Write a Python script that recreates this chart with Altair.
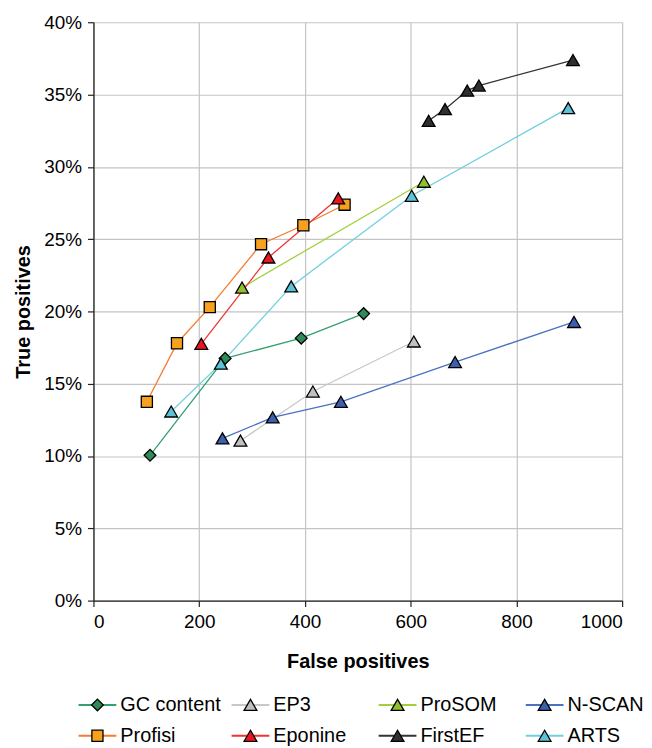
import altair as alt
import pandas as pd

series = ["GC content", "EP3", "ProSOM", "N-SCAN", "Profisi", "Eponine", "FirstEF", "ARTS"]

# False positives (x) and True positives in % (y) per series
gc_x = [107, 249, 393, 511]
gc_y = [10.05, 16.75, 18.15, 19.85]
ep3_x = [278, 415, 606]
ep3_y = [11.06, 14.46, 17.92]
prosom_x = [281, 625]
prosom_y = [21.65, 28.97]
nscan_x = [244, 339, 468, 684, 909]
nscan_y = [11.22, 12.67, 13.75, 16.5, 19.27]
profisi_x = [101, 158, 220, 317, 397, 475]
profisi_y = [13.75, 17.8, 20.3, 24.65, 25.96, 27.38]
eponine_x = [204, 331, 463]
eponine_y = [17.76, 23.73, 27.82]
firstef_x = [634, 665, 707, 729, 907]
firstef_y = [33.18, 33.99, 35.27, 35.62, 37.38]
arts_x = [147, 241, 374, 602, 898]
arts_y = [13.08, 16.39, 21.73, 28.0, 34.06]

all_x = [gc_x, ep3_x, prosom_x, nscan_x, profisi_x, eponine_x, firstef_x, arts_x]
all_y = [gc_y, ep3_y, prosom_y, nscan_y, profisi_y, eponine_y, firstef_y, arts_y]

line_colors = ["#35a070", "#c8c8c8", "#a3cf3e", "#4a72c0", "#f47c30", "#ee3535", "#333333", "#70cfe0"]
fill_colors = ["#2e8b57", "#c0c0c0", "#90c030", "#3d5fae", "#f7a11e", "#e8171e", "#2f2f2f", "#5cc3d6"]
shapes = ["diamond", "triangle-up", "triangle-up", "triangle-up", "square", "triangle-up", "triangle-up", "triangle-up"]
sizes = [140, 165, 165, 165, 125, 165, 165, 165]

x_ticks = [0, 200, 400, 600, 800, 1000]
y_ticks = [0, 5, 10, 15, 20, 25, 30, 35, 40]

rows = []
for k, (name, xs, ys) in enumerate(zip(series, all_x, all_y)):
    for i, (x, y) in enumerate(zip(xs, ys)):
        rows.append({"series": name, "sidx": k, "fp": x, "tp": y, "order": i,
                     "linec": line_colors[k], "fillc": fill_colors[k],
                     "shp": shapes[k], "sz": sizes[k]})
df = pd.DataFrame(rows)

FONT = "Liberation Sans"

x_enc = alt.X("fp:Q", scale=alt.Scale(domain=[0, 1000], nice=False),
              axis=alt.Axis(values=x_ticks, title="False positives", grid=True, format="d"))
y_enc = alt.Y("tp:Q", scale=alt.Scale(domain=[0, 40], nice=False),
              axis=alt.Axis(values=y_ticks, title="True positives", grid=True,
                            labelExpr="datum.value + '%'"))

lines = alt.Chart(df).mark_line(strokeWidth=1.3).encode(
    x=x_enc, y=y_enc,
    color=alt.Color("linec:N", scale=None),
    detail="series:N",
    order="order:Q",
)
points = alt.Chart(df).mark_point(filled=True, stroke="black", strokeWidth=1.3, opacity=1).encode(
    x=x_enc, y=y_enc,
    fill=alt.Fill("fillc:N", scale=None),
    shape=alt.Shape("shp:N", scale=None),
    size=alt.Size("sz:Q", scale=None),
    order="sidx:Q",
)
main = alt.layer(lines, points).properties(width=532, height=582)

leg = pd.DataFrame({
    "series": series,
    "col": [i % 4 for i in range(len(series))],
    "row": [i // 4 for i in range(len(series))],
    "linec": line_colors, "fillc": fill_colors, "shp": shapes, "sz": sizes,
})
lx = alt.Scale(domain=[0, 532], nice=False, zero=False)
ly = alt.Scale(domain=[0, 1], reverse=True, nice=False)
base = alt.Chart(leg).transform_calculate(
    x0="datum.col * 148 - 15 + (datum.col > 0 ? 6 : 0)",
    x1="datum.col * 148 + 23 + (datum.col > 0 ? 6 : 0)",
    xm="datum.col * 148 + 4 + (datum.col > 0 ? 6 : 0)",
    xt="datum.col * 148 + 27 + (datum.col > 0 ? 6 : 0)",
)
leg_rule = base.mark_rule(strokeWidth=2).encode(
    x=alt.X("x0:Q", scale=lx, axis=None), x2="x1:Q",
    y=alt.Y("row:Q", scale=ly, axis=None),
    color=alt.Color("linec:N", scale=None),
)
leg_pt = base.mark_point(filled=True, stroke="black", strokeWidth=1.3, opacity=1).encode(
    x=alt.X("xm:Q", scale=lx, axis=None),
    y=alt.Y("row:Q", scale=ly, axis=None),
    fill=alt.Fill("fillc:N", scale=None),
    shape=alt.Shape("shp:N", scale=None),
    size=alt.Size("sz:Q", scale=None),
)
leg_txt = base.mark_text(align="left", baseline="middle", fontSize=20, font=FONT, color="black").encode(
    x=alt.X("xt:Q", scale=lx, axis=None),
    y=alt.Y("row:Q", scale=ly, axis=None),
    text="series:N",
)
legend = alt.layer(leg_rule, leg_pt, leg_txt).properties(width=532, height=31)

chart = alt.vconcat(main, legend, spacing=24).properties(
    padding={"top": 3, "left": 5, "right": 0, "bottom": 0}
).configure_view(stroke=None).configure_axis(
    labelFont=FONT, titleFont=FONT, labelFontSize=19, titleFontSize=20,
    labelColor="black", titleColor="black", titleFontWeight="bold",
    gridColor="#c4c4c4", gridWidth=1.2,
    domainColor="#222222", domainWidth=1.3,
    tickColor="#222222", tickSize=6, tickWidth=1.2,
    labelPadding=6,
).configure_axisX(titlePadding=20).configure_axisY(titlePadding=10)

chart.save("out.html", embed_options={"renderer": "svg", "actions": False})
